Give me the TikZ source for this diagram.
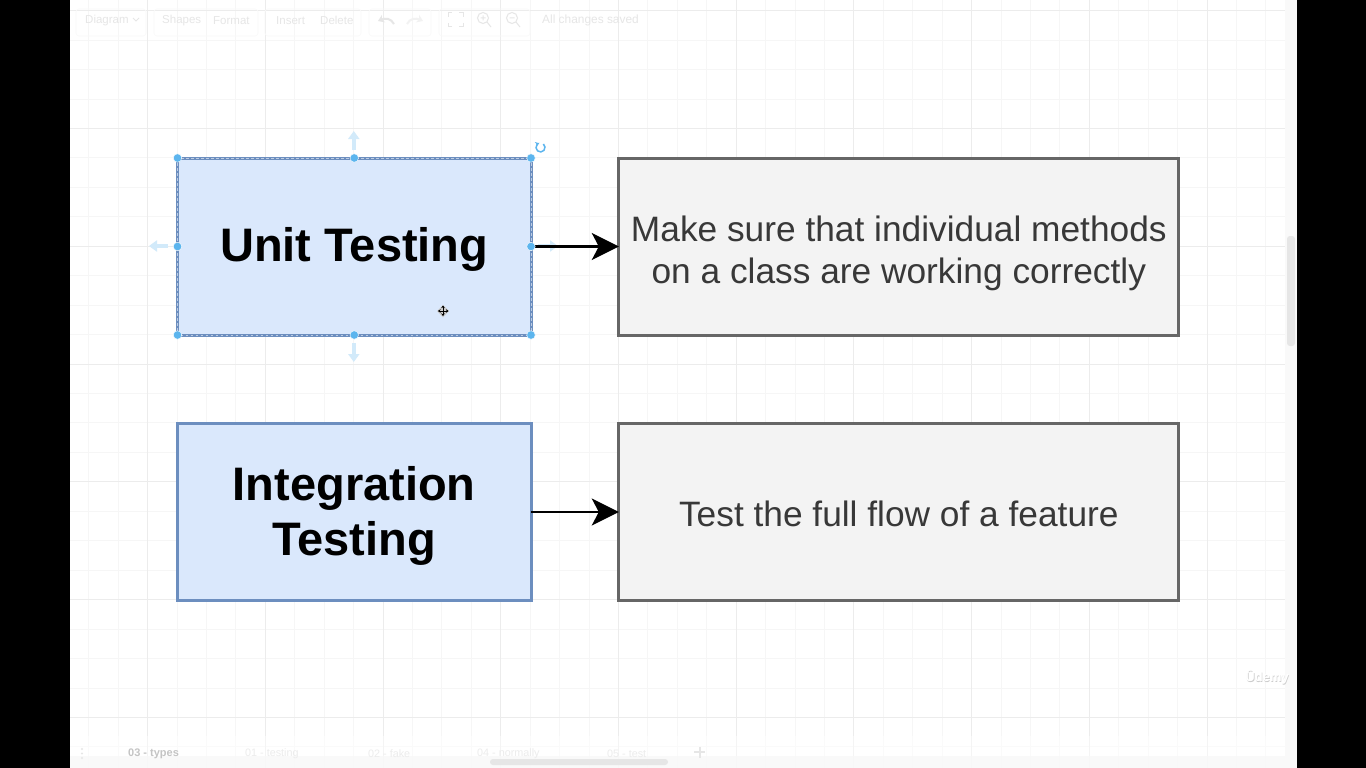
\documentclass[tikz,border=0pt]{standalone}
\usepackage{fontspec}
\setmainfont{Liberation Sans}
\usetikzlibrary{arrows.meta}
\definecolor{gridminor}{HTML}{F6F6F6}
\definecolor{gridmajor}{HTML}{ECECEC}
\definecolor{bluefill}{HTML}{DAE8FC}
\definecolor{blueline}{HTML}{6C8EBF}
\definecolor{greyfill}{HTML}{F3F3F3}
\definecolor{greyline}{HTML}{666666}
\definecolor{handle}{HTML}{5CB5EE}
\definecolor{ghost}{HTML}{D2EAFA}
\definecolor{chrome}{HTML}{E6E6E6}
\definecolor{chromebar}{HTML}{F9F9F9}
\newcommand{\lift}[1]{\rule{0pt}{#1pt}}
\tikzset{
  x=1pt,y=-1pt,
  boxbase/.style={anchor=north west,minimum width=#1,inner sep=0pt,outer sep=0pt,align=center,line width=3pt},
  titlebox/.style={boxbase=353.5pt,minimum height=177pt,draw=blueline,fill=bluefill,text=black,font=\fontsize{47}{55}\selectfont\bfseries},
  descbox/.style={boxbase=560pt,minimum height=177pt,draw=greyline,fill=greyfill,text=black!78,font=\fontsize{35.3}{42}\selectfont},
  flow/.style={line width=2.8pt,black,-{Stealth[length=27pt,width=27pt,inset=7pt]}},
  dot/.style={circle,fill=handle,draw=white,line width=0.4pt,minimum size=8.5pt,inner sep=0pt},
  ghostarrow/.style={line width=3.4pt,ghost,-{Stealth[length=8pt,width=11pt,inset=0pt]}},
  uitext/.style={text=chrome,font=\fontsize{#1}{#1}\selectfont,inner sep=0pt},
  uipanel/.style={draw=gridminor!70!white,rounded corners=3pt,line width=0.6pt},
}
\begin{document}
\begin{tikzpicture}
\useasboundingbox (0,0) rectangle (1366,768);
% page
\fill[white] (0,0) rectangle (1366,768);
\fill[chromebar] (1285,0) rectangle (1297,768);
% grid
\foreach \k in {0,...,41} {
  \pgfmathsetmacro{\gx}{88.6+29.43*\k}
  \ifdim \gx pt<1285pt \draw[gridminor,line width=0.7pt] (\gx,0) -- (\gx,768); \fi
}
\foreach \k in {0,...,26} {
  \pgfmathsetmacro{\gy}{10.5+29.45*\k}
  \draw[gridminor,line width=0.7pt] (70,\gy) -- (1285,\gy);
}
\foreach \k in {0,...,9} {
  \pgfmathsetmacro{\gx}{147.5+117.72*\k}
  \draw[gridmajor,line width=0.8pt] (\gx,0) -- (\gx,768);
}
\foreach \k in {0,...,6} {
  \pgfmathsetmacro{\gy}{10.5+117.8*\k}
  \draw[gridmajor,line width=0.8pt] (70,\gy) -- (1285,\gy);
}
% tab bar veil
\fill[white,opacity=0.45] (70,736) rectangle (1285,756);
\fill[chromebar,opacity=0.9] (70,756) rectangle (1285,768);
% black side bands
\fill[black] (0,0) rectangle (69.5,768);
\fill[black] (1297,0) rectangle (1366,768);
% toolbar
\draw[uipanel] (76,9) rectangle (146,36);
\draw[uipanel] (154,9) rectangle (258,36);
\draw[uipanel] (265,9) rectangle (361,36);
\draw[uipanel] (369,9) rectangle (431,36);
\draw[uipanel] (439,9) rectangle (530,36);
\node[uitext=11.5,anchor=west] (tDiagram) at (85,20.3) {Diagram};
\node[uitext=11.5,anchor=west] (tShapes) at (162,20.3) {Shapes};
\node[uitext=11.5,anchor=west] (tFormat) at (213,20.3) {Format};
\node[uitext=11.5,anchor=west] (tInsert) at (276,20.3) {Insert};
\node[uitext=11.5,anchor=west] (tDelete) at (320,20.3) {Delete};
\node[uitext=11.9,anchor=west] (tSaved) at (542,20.3) {All changes saved};
\draw[chrome,line width=0.8pt] (133,18) -- (136,21) -- (139,18);
\draw[chrome,line width=2pt,-{Stealth[length=6pt,width=8pt]}] (394,24) .. controls (391,18) and (385,18) .. (378,21);
\draw[gridmajor!70,line width=2pt,-{Stealth[length=6pt,width=8pt]}] (407,24) .. controls (410,18) and (416,18) .. (423,21);
\draw[chrome,line width=1pt] (448,17) -- (448,13) -- (452,13) (459,13) -- (463,13) -- (463,17) (463,23) -- (463,27) -- (459,27) (452,27) -- (448,27) -- (448,23);
\draw[chrome,line width=1pt] (483,18) circle (5.5pt) (487,22) -- (491,27) (480.5,18) -- (485.5,18) (483,15.5) -- (483,20.5);
\draw[chrome,line width=1pt] (512,18) circle (5.5pt) (516,22) -- (520,27) (509.5,18) -- (514.5,18);
% tabs
\fill[chrome] (82,749) circle (1.2pt) (82,753.5) circle (1.2pt) (82,758) circle (1.2pt);
\node[uitext=11,anchor=west,font=\fontsize{11}{11}\selectfont\bfseries,text=chrome!85!black] (tab3) at (128,754) {03 - types};
\node[uitext=10.8,anchor=west,text=gridmajor] (tab1) at (245,754) {01 - testing};
\node[uitext=10.8,anchor=west,text=gridmajor] (tab2) at (368,754) {02 - fake};
\node[uitext=10.8,anchor=west,text=gridmajor] (tab4) at (477,754) {04 - normally};
\node[uitext=10.8,anchor=west,text=gridmajor] (tab5) at (607,754) {05 - test};
\draw[chrome,line width=2pt] (694,752) -- (705,752) (699.5,746.5) -- (699.5,757.5);
% scrollbars
\fill[chrome,rounded corners=3pt] (490,759) rectangle (668,765);
\fill[chrome,rounded corners=3pt] (1287,236) rectangle (1295,346);
% watermark
\node[font=\fontsize{13}{13}\selectfont\bfseries,inner sep=0pt,anchor=east,text=black!20] (wmshadow) at (1289.6,677.6) {Ûdemy};
\node[font=\fontsize{13}{13}\selectfont\bfseries,inner sep=0pt,anchor=east,text=white] (wm) at (1289,677) {Ûdemy};
% boxes
\node[titlebox] (unit) at (177.5,158) {\lift{39}Unit Testing};
\node[titlebox] (integ) at (177.5,423.5) {\lift{41}Integration\\Testing};
\node[descbox] (d1) at (618.8,158) {\lift{39}Make sure that individual methods\\on a class are working correctly};
\node[descbox] (d2) at (618.8,423.5) {\lift{29}Test the full flow of a feature};
% selection outline
\draw[blueline!45!white,line width=1pt,dash pattern=on 2.5pt off 2.5pt] (unit.north west) rectangle (unit.south east);
% ghost arrows
\coordinate (gN) at (353.8,131);
\coordinate (gN0) at (353.8,150);
\coordinate (gS) at (353.8,362);
\coordinate (gS0) at (353.8,343);
\coordinate (gW) at (149,246);
\coordinate (gW0) at (168,246);
\coordinate (gE) at (558,246);
\coordinate (gE0) at (538,246);
\draw[ghostarrow] (gN0) -- (gN);
\draw[ghostarrow] (gS0) -- (gS);
\draw[ghostarrow] (gW0) -- (gW);
\draw[ghostarrow] (gE0) -- (gE);
% connectors
\coordinate (a1start) at ([xshift=4pt]unit.east);
\draw[flow] (a1start) -- (d1.west);
\draw[flow] (integ.east) -- (d2.west);
% handles
\foreach \a/\n in {north west/h1,north/h2,north east/h3,west/h4,east/h5,south west/h6,south/h7,south east/h8}
  \node[dot] (\n) at (unit.\a) {};
% rotate handle
\draw[handle,line width=1.5pt,-{Stealth[length=3.5pt,width=5pt]}] (543.4,144) arc[start angle=50,end angle=-250,radius=4.5pt];
% cursor
\fill[black!20] (443,305) -- (449,311) -- (443,317.5) -- (437,311) -- cycle;
\draw[black,line width=1pt,{Stealth[length=2.5pt,width=3.5pt]}-{Stealth[length=2.5pt,width=3.5pt]}] (438,311) -- (448.5,311);
\draw[black,line width=1pt,{Stealth[length=2.5pt,width=3.5pt]}-{Stealth[length=2.5pt,width=3.5pt]}] (443,305.5) -- (443,316);
\end{tikzpicture}
\end{document}
